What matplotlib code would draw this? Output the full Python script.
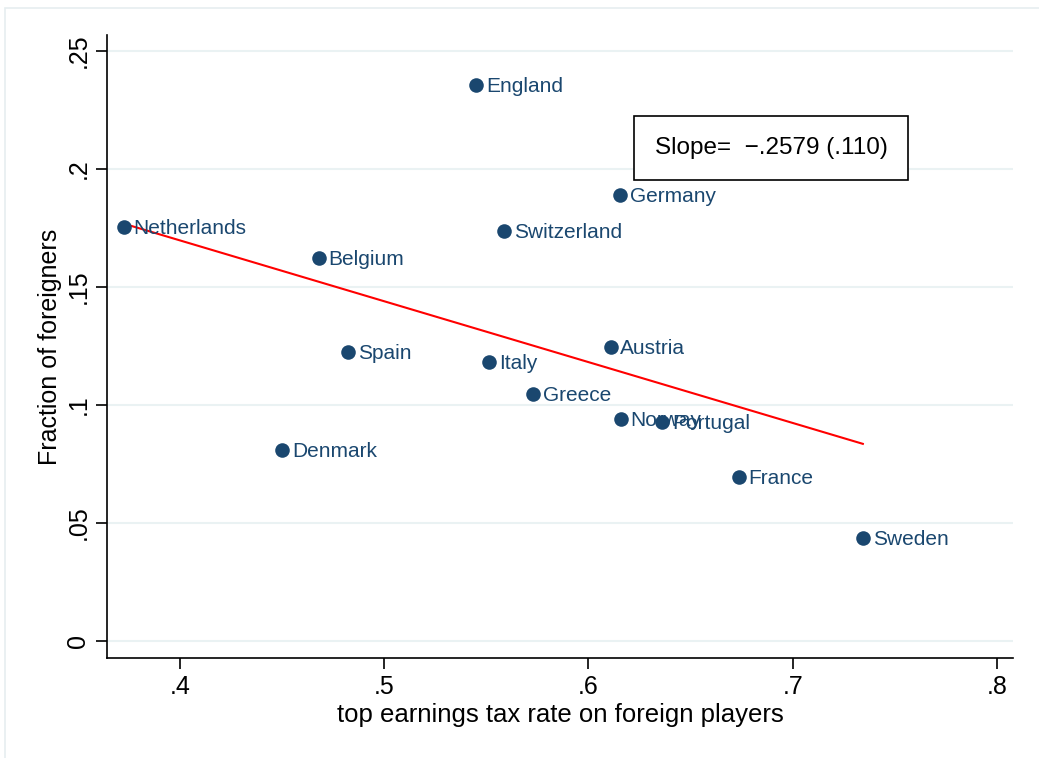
import numpy as np
import matplotlib.pyplot as plt
from matplotlib.patches import Rectangle

plt.rcParams['font.family'] = ['Liberation Sans', 'DejaVu Sans']

# top earnings tax rate on foreign players vs share of foreign players
countries = ['Netherlands', 'England', 'Germany', 'Switzerland', 'Belgium',
             'Spain', 'Italy', 'Austria', 'Greece', 'Norway', 'Portugal',
             'Denmark', 'France', 'Sweden']
tax_rate = [0.3726, 0.545, 0.6155, 0.5587, 0.468, 0.4823, 0.5513, 0.6108,
            0.5729, 0.6157, 0.6362, 0.45, 0.6735, 0.7343]
foreign_share = [0.1754, 0.2356, 0.189, 0.1737, 0.1623, 0.1225, 0.1182,
                 0.1246, 0.1047, 0.0941, 0.0928, 0.0809, 0.0695, 0.0436]
slope = -0.2579
slope_se = 0.110

xticks = [0.4, 0.5, 0.6, 0.7, 0.8]
xtick_labels = ['.4', '.5', '.6', '.7', '.8']
yticks = [0, 0.05, 0.1, 0.15, 0.2, 0.25]
ytick_labels = ['0', '.05', '.1', '.15', '.2', '.25']

navy = '#1a476f'
grid_col = '#eaf2f3'

fig = plt.figure(figsize=(10.39, 7.58), dpi=100)
fig.patches.append(Rectangle((5 / 1039, -0.1), 1.1, 1.1 - 8 / 758, transform=fig.transFigure,
                             fill=False, edgecolor='#e6eef0', linewidth=1.2))
ax = fig.add_axes([107 / 1039, 1 - 658 / 758, 906 / 1039, 623 / 758])

x = np.array(tax_rate)
y = np.array(foreign_share)
ax.scatter(x, y, s=110, color=navy, zorder=3, linewidths=0)
for name, xi, yi in zip(countries, x, y):
    ax.annotate(name, (xi, yi), xytext=(7, -1), textcoords='offset points',
                ha='left', va='center', fontsize=15, color=navy, zorder=4)

# fitted line through the means with the reported slope
intercept = y.mean() - slope * x.mean()
xs = np.array([x.min(), x.max()])
ax.plot(xs, intercept + slope * xs, color='red', linewidth=1.5, zorder=2)

slope_txt = f'Slope=  \u2212{abs(slope):.4f} ({slope_se:.3f})'.replace('0.', '.')
ax.text(0.6895, 0.2089, slope_txt, fontsize=17.5, ha='center', va='center', zorder=5,
        bbox=dict(boxstyle='square,pad=0.85', facecolor='white', edgecolor='black', linewidth=1.2))

ax.set_xlim(0.3643, 0.8078)
ax.set_ylim(-0.0072, 0.2568)
ax.set_xticks(xticks)
ax.set_xticklabels(xtick_labels, fontsize=18)
ax.set_yticks(yticks)
ax.set_yticklabels(ytick_labels, fontsize=18, rotation=90, va='center')
ax.tick_params(direction='out', length=8, width=1.2, pad=4)
ax.yaxis.grid(True, color=grid_col, linewidth=1.5)
ax.set_axisbelow(True)
for side in ['top', 'right']:
    ax.spines[side].set_visible(False)
for side in ['left', 'bottom']:
    ax.spines[side].set_linewidth(1.2)

ax.set_xlabel('top earnings tax rate on foreign players', fontsize=18.5, labelpad=3)
ax.set_ylabel('Fraction of foreigners', fontsize=18, labelpad=3)

fig.savefig('out.png', dpi=100)
